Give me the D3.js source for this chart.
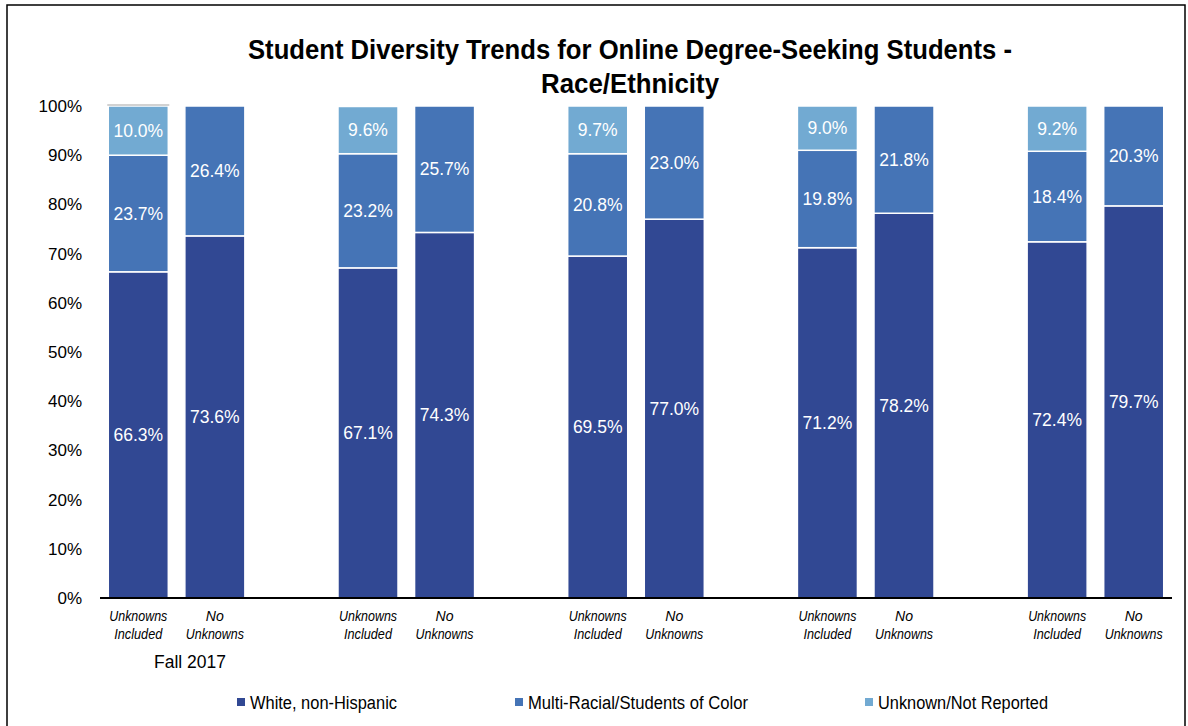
<!DOCTYPE html>
<html>
<head>
<meta charset="utf-8">
<script src="https://cdn.jsdelivr.net/npm/d3@7"></script>
<style>
  body { margin: 0; background: #fff; }
  svg { font-family: "Liberation Sans", Arial, sans-serif; }
</style>
</head>
<body>
<script>
// values
const groups = ["Fall 2017", "", "", "", ""];
const bars = ["Unknowns Included", "No Unknowns"];
const whiteIncl = [66.3, 67.1, 69.5, 71.2, 72.4];
const multiIncl = [23.7, 23.2, 20.8, 19.8, 18.4];
const unknownIncl = [10.0, 9.6, 9.7, 9.0, 9.2];
const whiteNo = [73.6, 74.3, 77.0, 78.2, 79.7];
const multiNo = [26.4, 25.7, 23.0, 21.8, 20.3];
const yTicks = [0, 10, 20, 30, 40, 50, 60, 70, 80, 90, 100];
const seriesNames = ["White, non-Hispanic", "Multi-Racial/Students of Color", "Unknown/Not Reported"];
const colors = ["#314893", "#4574b6", "#72aad2"];

const width = 1188, height = 726;
const svg = d3.select("body").append("svg")
  .attr("width", width).attr("height", height);

// outer frame
svg.append("path")
  .attr("d", "M7,730 V5 H1185 V730")
  .attr("fill", "none").attr("stroke", "#000").attr("stroke-width", 1.5);

// title (reference font is condensed, so squeeze to its width)
svg.append("text").attr("x", 630).attr("y", 59).attr("text-anchor", "middle")
  .attr("font-size", 27).attr("font-weight", "bold")
  .attr("textLength", 764).attr("lengthAdjust", "spacingAndGlyphs")
  .text("Student Diversity Trends for Online Degree-Seeking Students -");
svg.append("text").attr("x", 630).attr("y", 93).attr("text-anchor", "middle")
  .attr("font-size", 27).attr("font-weight", "bold")
  .attr("textLength", 178).attr("lengthAdjust", "spacingAndGlyphs")
  .text("Race/Ethnicity");

// one slot per bar plus a blank spacer between groups
const slots = [];
groups.forEach((g, i) => {
  slots.push("g" + i + "b0", "g" + i + "b1");
  if (i < groups.length - 1) slots.push("g" + i + "sp");
});

const x = d3.scaleBand().domain(slots).range([100, 1172])
  .paddingInner(0.216).paddingOuter(0.108);
const y = d3.scaleLinear().domain([0, 100]).range([598, 106]);

// stacked records
const stacks = [];
groups.forEach((g, i) => {
  stacks.push({ key: "g" + i + "b0", vals: [whiteIncl[i], multiIncl[i], unknownIncl[i]] });
  stacks.push({ key: "g" + i + "b1", vals: [whiteNo[i], multiNo[i]] });
});

const segs = [];
stacks.forEach(s => {
  let base = 0;
  s.vals.forEach((v, k) => {
    segs.push({ key: s.key, y0: base, y1: base + v, v: v, k: k });
    base += v;
  });
});

svg.append("g").selectAll("rect").data(segs).join("rect")
  .attr("x", d => x(d.key))
  .attr("width", x.bandwidth())
  .attr("y", d => y(d.y1))
  .attr("height", d => y(d.y0) - y(d.y1))
  .attr("fill", d => colors[d.k])
  .attr("stroke", "#fff").attr("stroke-width", 1.5);

// thin grey cap over the first bar, as in the source
svg.append("line")
  .attr("x1", x("g0b0") - 1).attr("x2", x("g0b0") + x.bandwidth() + 1)
  .attr("y1", y(100) - 1).attr("y2", y(100) - 1)
  .attr("stroke", "#a6a6a6").attr("stroke-width", 1.2);

svg.append("g").selectAll("text").data(segs).join("text")
  .attr("x", d => x(d.key) + x.bandwidth() / 2)
  .attr("y", d => y((d.y0 + d.y1) / 2) + 6)
  .attr("text-anchor", "middle")
  .attr("font-size", 17.5)
  .attr("fill", "#fff")
  .text(d => d.v.toFixed(1) + "%");

// y axis labels (no axis line)
const yAxis = svg.append("g").attr("transform", "translate(82,0)")
  .call(d3.axisLeft(y).tickValues(yTicks).tickSize(0).tickPadding(0).tickFormat(d => d + "%"));
yAxis.select(".domain").remove();
yAxis.selectAll("text").attr("font-size", 17).attr("fill", "#000")
  .attr("font-family", "Liberation Sans, Arial, sans-serif");

// x axis baseline
svg.append("line").attr("x1", 100).attr("x2", 1172).attr("y1", 598).attr("y2", 598)
  .attr("stroke", "#000").attr("stroke-width", 2);

// category labels
const catLines = [["Unknowns", "Included"], ["No", "Unknowns"]];
const catWidths = { "Unknowns": 58, "Included": 48, "No": 18 };
const cats = svg.append("g").selectAll("text").data(stacks).join("text")
  .attr("x", d => x(d.key) + x.bandwidth() / 2)
  .attr("text-anchor", "middle")
  .attr("font-size", 14.5).attr("font-style", "italic").attr("fill", "#000");
cats.each(function(d) {
  const lines = catLines[+d.key.slice(-1)];
  lines.forEach((t, j) => {
    d3.select(this).append("tspan")
      .attr("x", x(d.key) + x.bandwidth() / 2)
      .attr("y", 621 + j * 18)
      .attr("textLength", catWidths[t])
      .attr("lengthAdjust", "spacingAndGlyphs")
      .text(t);
  });
});

// group labels
svg.append("g").selectAll("text").data(groups).join("text")
  .attr("x", (d, i) => 190 + i * (x("g1b0") - x("g0b0")))
  .attr("y", 668)
  .attr("text-anchor", "middle")
  .attr("font-size", 17.5).attr("fill", "#000")
  .text(d => d);

// legend
const legendX = [237, 515, 865];
const legendW = [147, 220, 170];
const lg = svg.append("g").selectAll("g").data(seriesNames).join("g")
  .attr("transform", (d, i) => "translate(" + legendX[i] + ",702)");
lg.append("rect").attr("x", 0).attr("y", -4).attr("width", 8).attr("height", 8)
  .attr("fill", (d, i) => colors[i]);
lg.append("text").attr("x", 13).attr("y", 6.5)
  .attr("font-size", 18).attr("fill", "#000")
  .attr("textLength", (d, i) => legendW[i]).attr("lengthAdjust", "spacingAndGlyphs")
  .text(d => d);
</script>
</body>
</html>
